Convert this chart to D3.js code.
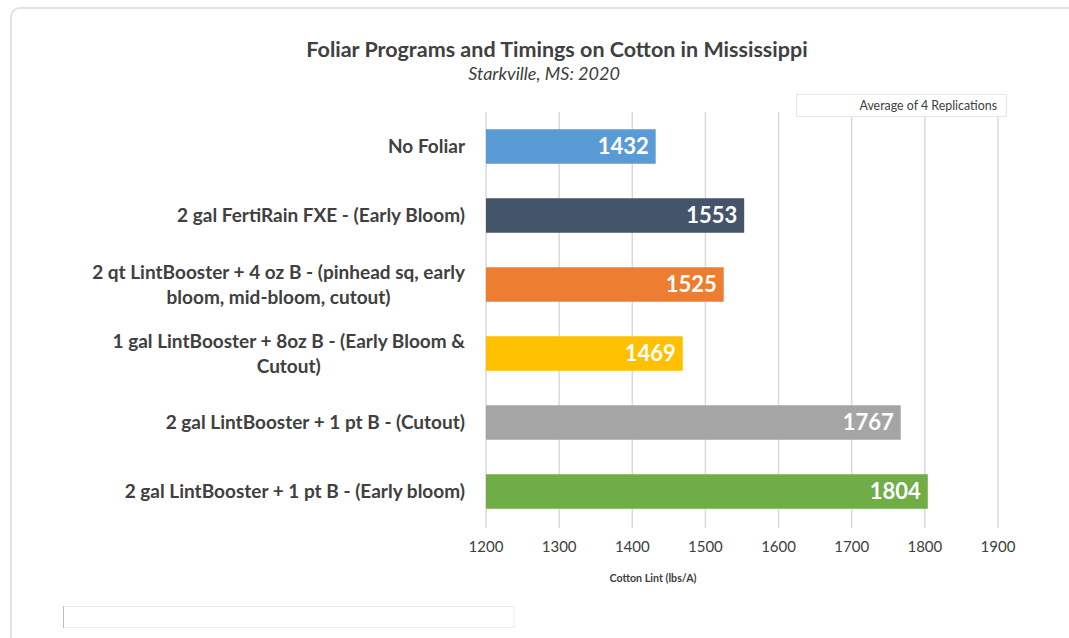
<!DOCTYPE html>
<html><head><meta charset="utf-8">
<script src="https://cdn.jsdelivr.net/npm/d3@7"></script>
<style>
html,body{margin:0;padding:0;background:#fff;}
svg{display:block;}
</style></head>
<body>
<script>
const categories = [
  ["No Foliar"],
  ["2 gal FertiRain FXE - (Early Bloom)"],
  ["2 qt LintBooster + 4 oz B - (pinhead sq, early", "bloom, mid-bloom, cutout)"],
  ["1 gal LintBooster + 8oz B - (Early Bloom &", "Cutout)"],
  ["2 gal LintBooster + 1 pt B - (Cutout)"],
  ["2 gal LintBooster + 1 pt B - (Early bloom)"]
];
const values = [1432, 1553, 1525, 1469, 1767, 1804];
const colors = ["#5B9BD5", "#44546A", "#ED7D31", "#FFC000", "#A5A5A5", "#70AD47"];
const ticks = [1200, 1300, 1400, 1500, 1600, 1700, 1800, 1900];
const title = "Foliar Programs and Timings on Cotton in Mississippi";
const subtitle = "Starkville, MS: 2020";
const legendText = "Average of 4 Replications";
const xTitle = "Cotton Lint (lbs/A)";

const W = 1069, H = 638;
const font = "Lato, 'Open Sans', sans-serif";
const svg = d3.select("body").append("svg").attr("width", W).attr("height", H);

// frame
svg.append("rect").attr("x", 11).attr("y", 8).attr("width", W + 20).attr("height", H + 20)
  .attr("rx", 9).attr("fill", "#fff").attr("stroke", "#e3e3e3").attr("stroke-width", 2);

const x = d3.scaleLinear().domain([1200, 1900]).range([486, 998]);
const y = d3.scaleBand().domain(d3.range(categories.length)).range([112, 526])
  .paddingInner(0.5).paddingOuter(0.25);

// gridlines
svg.append("g").selectAll("line").data(ticks).join("line")
  .attr("x1", d => x(d)).attr("x2", d => x(d))
  .attr("y1", 112).attr("y2", 528)
  .attr("stroke", "#d9d9d9").attr("stroke-width", 1.5);

// bars
svg.append("g").selectAll("rect").data(values).join("rect")
  .attr("x", x(1200)).attr("y", (d, i) => y(i))
  .attr("width", d => x(d) - x(1200)).attr("height", y.bandwidth())
  .attr("fill", (d, i) => colors[i]);

// value labels
svg.append("g").selectAll("text").data(values).join("text")
  .attr("x", d => x(d) - 7).attr("y", (d, i) => y(i) + y.bandwidth() / 2)
  .attr("dy", "0.36em").attr("text-anchor", "end")
  .attr("fill", "#fff").attr("font-family", font).attr("font-weight", "bold")
  .attr("font-size", 22).text(d => d);

// category labels
const cl = svg.append("g").selectAll("text").data(categories).join("text")
  .attr("text-anchor", "middle").attr("fill", "#404040")
  .attr("font-family", font).attr("font-weight", "bold").attr("font-size", 19);
cl.each(function(lines, i) {
  const t = d3.select(this);
  const cy = y(i) + y.bandwidth() / 2;
  const lh = 25.5;
  const n = lines.length;
  lines.forEach((ln, k) => {
    t.append("tspan").attr("y", cy + (k - (n - 1) / 2) * lh).attr("dy", "0.36em").text(ln);
  });
  const spans = t.selectAll("tspan").nodes();
  const wmax = d3.max(spans, s => s.getComputedTextLength());
  const right = 465;
  spans.forEach(s => d3.select(s).attr("x", right - wmax / 2));
});

// x axis tick labels
svg.append("g").selectAll("text").data(ticks).join("text")
  .attr("x", d => x(d)).attr("y", 547).attr("dy", "0.36em")
  .attr("text-anchor", "middle").attr("fill", "#404040")
  .attr("font-family", font).attr("font-size", 15).text(d => d);

// axis title
svg.append("text").attr("x", 653).attr("y", 578).attr("dy", "0.36em")
  .attr("text-anchor", "middle").attr("fill", "#404040")
  .attr("font-family", font).attr("font-weight", "bold").attr("font-size", 10.7).text(xTitle);

// title
svg.append("text").attr("x", 557).attr("y", 49).attr("dy", "0.36em")
  .attr("text-anchor", "middle").attr("fill", "#404040")
  .attr("font-family", font).attr("font-weight", "bold").attr("font-size", 21.5).text(title);
svg.append("text").attr("x", 544).attr("y", 74).attr("dy", "0.36em")
  .attr("text-anchor", "middle").attr("fill", "#404040")
  .attr("font-family", font).attr("font-style", "italic").attr("font-size", 18).text(subtitle);

// legend box
svg.append("rect").attr("x", 796.5).attr("y", 94.5).attr("width", 210).attr("height", 22)
  .attr("fill", "#fff").attr("stroke", "#e6e6e6").attr("stroke-width", 1);
svg.append("text").attr("x", 997).attr("y", 106).attr("dy", "0.36em")
  .attr("text-anchor", "end").attr("fill", "#404040")
  .attr("font-family", font).attr("font-size", 12.4).text(legendText);

// bottom empty box
svg.append("rect").attr("x", 63.5).attr("y", 606.5).attr("width", 450.5).attr("height", 21)
  .attr("fill", "#fff").attr("stroke", "#ececec").attr("stroke-width", 1);
svg.append("line").attr("x1", 63.5).attr("x2", 63.5).attr("y1", 606).attr("y2", 628)
  .attr("stroke", "#bdbdbd").attr("stroke-width", 1);
</script>
</body></html>
